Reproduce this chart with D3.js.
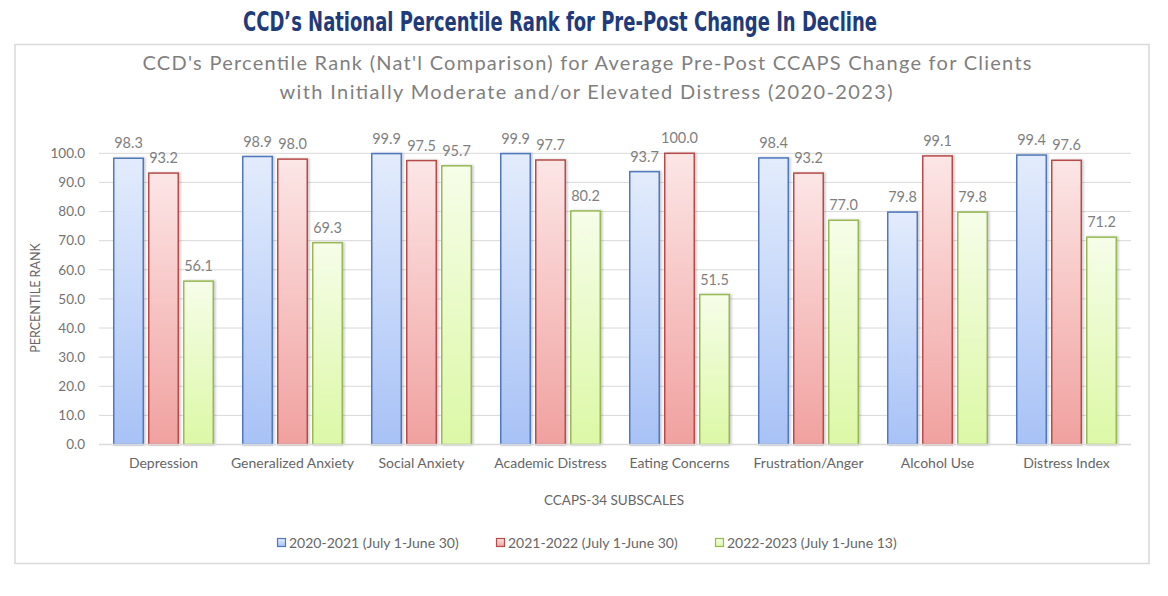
<!DOCTYPE html>
<html><head><meta charset="utf-8">
<script src="https://cdn.jsdelivr.net/npm/d3@7/dist/d3.min.js"></script>
<style>
html,body{margin:0;padding:0;background:#fff;}
svg{display:block;}
</style></head>
<body>
<svg id="c" width="1168" height="596"></svg>
<script>
const categories = ["Depression","Generalized Anxiety","Social Anxiety","Academic Distress","Eating Concerns","Frustration/Anger","Alcohol Use","Distress Index"];
const seriesNames = ["2020-2021 (July 1-June 30)","2021-2022 (July 1-June 30)","2022-2023 (July 1-June 13)"];
const values2021 = [98.3, 98.9, 99.9, 99.9, 93.7, 98.4, 79.8, 99.4];
const values2022 = [93.2, 98.0, 97.5, 97.7, 100.0, 93.2, 99.1, 97.6];
const values2023 = [56.1, 69.3, 95.7, 80.2, 51.5, 77.0, 79.8, 71.2];
const yTicks = [0,10,20,30,40,50,60,70,80,90,100];

const seriesValues = [values2021, values2022, values2023];
const styles = [
  {top:"#e3ecfc", bot:"#a8c2f6", stroke:"#4f78bd"},
  {top:"#fce6e6", bot:"#f0a19f", stroke:"#b64c49"},
  {top:"#f6fde9", bot:"#dcf8a6", stroke:"#98b954"}
];

const svg = d3.select("#c");
const defs = svg.append("defs");
styles.forEach((s,i)=>{
  const g = defs.append("linearGradient").attr("id","g"+i).attr("x1",0).attr("y1",0).attr("x2",0).attr("y2",1);
  g.append("stop").attr("offset","0%").attr("stop-color",s.top);
  g.append("stop").attr("offset","100%").attr("stop-color",s.bot);
});
const f = defs.append("filter").attr("id","sh").attr("x","-20%").attr("y","-5%").attr("width","150%").attr("height","115%");
f.append("feDropShadow").attr("dx",1.5).attr("dy",0).attr("stdDeviation",1.2).attr("flood-color","#000").attr("flood-opacity",0.22);

// Main title
svg.append("text").attr("x",560).attr("y",31).attr("text-anchor","middle")
  .attr("font-family","DejaVu Sans Condensed, DejaVu Sans").attr("font-weight","bold")
  .attr("font-size",27).attr("fill","#1f3b7b")
  .attr("textLength",634).attr("lengthAdjust","spacingAndGlyphs")
  .text("CCD\u2019s National Percentile Rank for Pre-Post Change In Decline");

// Chart frame
svg.append("rect").attr("x",15).attr("y",44.5).attr("width",1134).attr("height",519)
  .attr("fill","#fff").attr("stroke","#d9d9d9").attr("stroke-width",1.5);

const font = "Lato, 'Open Sans', sans-serif";
svg.append("text").attr("x",587).attr("y",70).attr("text-anchor","middle")
  .attr("font-family",font).attr("font-size",20).attr("fill","#7f7f7f")
  .attr("textLength",889).attr("lengthAdjust","spacing")
  .text("CCD's Percentile Rank (Nat'l Comparison) for Average Pre-Post CCAPS Change for Clients");
svg.append("text").attr("x",586).attr("y",99).attr("text-anchor","middle")
  .attr("font-family",font).attr("font-size",20).attr("fill","#7f7f7f")
  .attr("textLength",613).attr("lengthAdjust","spacing")
  .text("with Initially Moderate and/or Elevated Distress (2020-2023)");

const x0 = d3.scaleBand().domain(categories).range([99,1131]).paddingInner(0.217).paddingOuter(0.1085);
const x1 = d3.scaleBand().domain([0,1,2]).range([0,x0.bandwidth()]).paddingInner(0.114).paddingOuter(0);
const y = d3.scaleLinear().domain([0,100]).range([444.5,153.3]);

// gridlines
svg.append("g").selectAll("line").data(yTicks.filter(t=>t>0)).join("line")
  .attr("x1",99).attr("x2",1131).attr("y1",d=>y(d)).attr("y2",d=>y(d))
  .attr("stroke","#d9d9d9").attr("stroke-width",1);

// y axis labels
const yAxis = d3.axisLeft(y).tickValues(yTicks).tickFormat(d3.format(".1f")).tickSize(0).tickPadding(14);
const ya = svg.append("g").attr("transform","translate(99,0)").call(yAxis);
ya.select(".domain").remove();
ya.selectAll("text").attr("font-family",font).attr("font-size",13.5).attr("fill","#737373");

// bars
const groups = svg.append("g").selectAll("g").data(categories).join("g")
  .attr("transform",d=>`translate(${x0(d)},0)`);
groups.selectAll("rect").data((d,ci)=>seriesValues.map((vals,si)=>({si, v:vals[ci]}))).join("rect")
  .attr("x",d=>x1(d.si)+0.75).attr("width",x1.bandwidth()-1.5)
  .attr("y",d=>y(d.v)).attr("height",d=>y(0)-y(d.v))
  .attr("fill",d=>`url(#g${d.si})`).attr("stroke",d=>styles[d.si].stroke).attr("stroke-width",1.5)
  .attr("filter","url(#sh)");
groups.selectAll("text").data((d,ci)=>seriesValues.map((vals,si)=>({si, v:vals[ci]}))).join("text")
  .attr("x",d=>x1(d.si)+x1.bandwidth()/2).attr("y",d=>y(d.v)-10)
  .attr("text-anchor","middle").attr("font-family",font).attr("font-size",14.5).attr("fill","#7f7f7f")
  .text(d=>d3.format(".1f")(d.v));

// x axis baseline
svg.append("line").attr("x1",99).attr("x2",1131).attr("y1",y(0)).attr("y2",y(0))
  .attr("stroke","#d9d9d9").attr("stroke-width",1.5);

const xAxis = d3.axisBottom(x0).tickSize(0).tickPadding(14);
const xa = svg.append("g").attr("transform",`translate(0,${y(0)})`).call(xAxis);
xa.select(".domain").remove();
xa.selectAll("text").attr("font-family",font).attr("font-size",14).attr("fill","#666");

// axis titles
svg.append("text").attr("x",614).attr("y",505).attr("text-anchor","middle")
  .attr("font-family",font).attr("font-size",13.5).attr("fill","#666").text("CCAPS-34 SUBSCALES");
svg.append("text").attr("transform","translate(40,298) rotate(-90)").attr("text-anchor","middle")
  .attr("font-family",font).attr("font-size",12.5).attr("fill","#666").text("PERCENTILE RANK");

// legend
const legendX = [277, 496, 715];
const lg = svg.append("g").selectAll("g").data(seriesNames).join("g")
  .attr("transform",(d,i)=>`translate(${legendX[i]},538)`);
lg.append("rect").attr("x",0.5).attr("y",0.5).attr("width",8).attr("height",8)
  .attr("fill",(d,i)=>`url(#g${i})`).attr("stroke",(d,i)=>styles[i].stroke).attr("stroke-width",1.2);
lg.append("text").attr("x",12).attr("y",9.5).attr("font-family",font).attr("font-size",14).attr("fill","#666").text(d=>d);
</script>
</body></html>
